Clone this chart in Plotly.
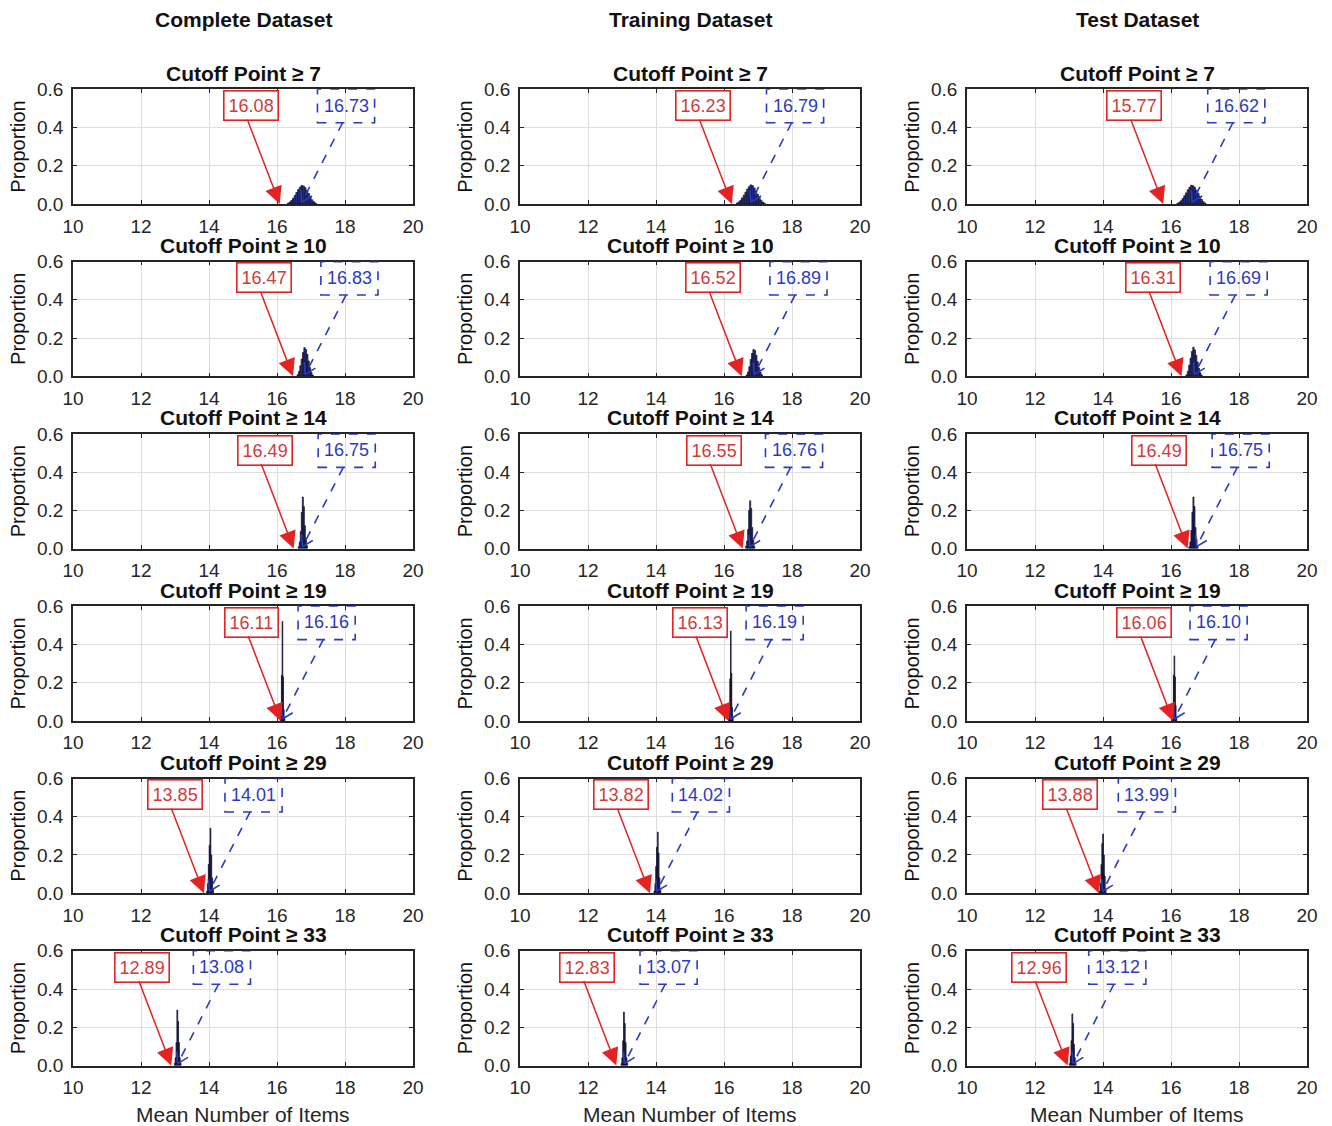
import math
import plotly.graph_objects as go

# ---------------- data ----------------
datasets = ["Complete Dataset", "Training Dataset", "Test Dataset"]
cutoffs = [7, 10, 14, 19, 29, 33]

# lower bound (red, solid box) and mean (blue, dashed box) per cutoff
complete_red = [16.08, 16.47, 16.49, 16.11, 13.85, 12.89]
complete_blue = [16.73, 16.83, 16.75, 16.16, 14.01, 13.08]
training_red = [16.23, 16.52, 16.55, 16.13, 13.82, 12.83]
training_blue = [16.79, 16.89, 16.76, 16.19, 14.02, 13.07]
test_red = [15.77, 16.31, 16.49, 16.06, 13.88, 12.96]
test_blue = [16.62, 16.69, 16.75, 16.10, 13.99, 13.12]

# histogram bins: width per cutoff row, left edge of first bin per panel
bin_width = [0.05, 0.04, 0.03, 0.02, 0.025, 0.025]
complete_bin_start = [16.305, 16.59, 16.625, 16.09, 13.93, 12.98]
training_bin_start = [16.365, 16.65, 16.635, 16.13, 13.94, 12.97]
test_bin_start = [16.175, 16.44, 16.525, 16.03, 13.89, 13.01]

complete_hist = [
    [0.004, 0.010, 0.018, 0.030, 0.044, 0.060, 0.075, 0.088, 0.097, 0.094, 0.085, 0.070, 0.055, 0.038, 0.022, 0.012, 0.005],
    [0.008, 0.025, 0.055, 0.090, 0.125, 0.150, 0.140, 0.115, 0.080, 0.045, 0.020, 0.007],
    [0.010, 0.035, 0.090, 0.190, 0.270, 0.220, 0.120, 0.050, 0.015],
    [0.015, 0.060, 0.240, 0.520, 0.230, 0.060, 0.012],
    [0.010, 0.050, 0.150, 0.250, 0.340, 0.200, 0.080, 0.020],
    [0.010, 0.040, 0.120, 0.290, 0.230, 0.120, 0.040, 0.010],
]
training_hist = [
    [0.005, 0.011, 0.020, 0.032, 0.046, 0.062, 0.078, 0.090, 0.100, 0.096, 0.084, 0.068, 0.050, 0.034, 0.020, 0.010, 0.004],
    [0.007, 0.022, 0.050, 0.088, 0.120, 0.140, 0.135, 0.110, 0.078, 0.046, 0.022, 0.008],
    [0.012, 0.040, 0.100, 0.200, 0.250, 0.210, 0.110, 0.045, 0.012],
    [0.015, 0.070, 0.220, 0.470, 0.250, 0.070, 0.015],
    [0.010, 0.050, 0.140, 0.240, 0.320, 0.210, 0.080, 0.020],
    [0.010, 0.040, 0.130, 0.280, 0.220, 0.120, 0.040, 0.010],
]
test_hist = [
    [0.004, 0.009, 0.017, 0.029, 0.043, 0.058, 0.074, 0.087, 0.098, 0.095, 0.086, 0.072, 0.056, 0.040, 0.024, 0.012, 0.005],
    [0.008, 0.026, 0.058, 0.095, 0.130, 0.152, 0.138, 0.110, 0.075, 0.042, 0.018, 0.006],
    [0.010, 0.035, 0.095, 0.190, 0.270, 0.220, 0.110, 0.050, 0.014],
    [0.020, 0.080, 0.240, 0.340, 0.230, 0.080, 0.020],
    [0.010, 0.050, 0.150, 0.260, 0.310, 0.200, 0.090, 0.020],
    [0.010, 0.050, 0.130, 0.270, 0.220, 0.110, 0.040, 0.010],
]

x_ticks = [10, 12, 14, 16, 18, 20]
y_ticks = [0.0, 0.2, 0.4, 0.6]
y_tick_labels = ["0.0", "0.2", "0.4", "0.6"]

red_vals = [complete_red, training_red, test_red]
blue_vals = [complete_blue, training_blue, test_blue]
bin_starts = [complete_bin_start, training_bin_start, test_bin_start]
hists = [complete_hist, training_hist, test_hist]

# ---------------- layout geometry ----------------
W, H = 1332, 1126
col_left = [73, 520, 967]  # in screen pixels
col_w = 340
row_top = [89.3, 261.6, 433.9, 606.2, 778.5, 950.8]
row_h = 114.7
px_x = col_w / 10.0
px_y = row_h / 0.6

FONT = "Arial, Liberation Sans, sans-serif"
DARK = "#262626"
RED_TXT = "#d23a3a"
RED = "#e52222"
BLUE = "#2a3ac4"
BAR_FILL = "#2838b8"

fig = go.Figure()
layout = dict(
    width=W, height=H, margin=dict(l=0, r=0, t=0, b=0, autoexpand=False),
    paper_bgcolor="white", plot_bgcolor="white", showlegend=False,
    font=dict(family=FONT, color=DARK), template="none",
)
annotations = []
shapes = []

def px2fx(px):
    return px / W

def px2fy(py):
    return 1 - py / H

for c in range(3):
    for r in range(6):
        k = r * 3 + c + 1
        xa = "x" if k == 1 else f"x{k}"
        ya = "y" if k == 1 else f"y{k}"
        xkey = "xaxis" if k == 1 else f"xaxis{k}"
        ykey = "yaxis" if k == 1 else f"yaxis{k}"
        x0p = col_left[c]
        y0p = row_top[r]
        layout[xkey] = dict(
            domain=[px2fx(x0p), px2fx(x0p + col_w)], anchor=ya, automargin=False,
            range=[10, 20], tickvals=x_ticks, showgrid=True, gridcolor="#dedede",
            gridwidth=1, showline=True, linecolor=DARK, linewidth=1.5, mirror="ticks",
            ticks="inside", ticklen=4, tickcolor=DARK, zeroline=False,
            tickfont=dict(size=19, color=DARK, family=FONT), ticklabelstandoff=4,
        )
        layout[ykey] = dict(
            domain=[px2fy(y0p + row_h), px2fy(y0p)], anchor=xa, automargin=False,
            range=[0, 0.6], tickvals=y_ticks, ticktext=y_tick_labels, showgrid=True,
            gridcolor="#dedede", gridwidth=1, showline=True, linecolor=DARK, linewidth=1.5,
            mirror="ticks", ticks="inside", ticklen=4, tickcolor=DARK, zeroline=False,
            tickfont=dict(size=19, color=DARK, family=FONT), ticklabelstandoff=4,
        )

        # histogram
        bw = bin_width[r]
        st = bin_starts[c][r]
        hv = hists[c][r]
        centers = [st + bw * (i + 0.5) for i in range(len(hv))]
        fig.add_trace(go.Bar(
            x=centers, y=hv, width=bw, xaxis=xa, yaxis=ya,
            marker=dict(color=BAR_FILL, line=dict(color="#0c0c14", width=0.7)),
            hoverinfo="skip",
        ))

        rv = red_vals[c][r]
        bv = blue_vals[c][r]

        # red solid box + arrow
        rc = rv - 0.85
        annotations.append(dict(
            x=rc, y=0.515, xref=xa, yref=ya, text=f"{rv:.2f}", showarrow=False,
            font=dict(size=18, color=RED_TXT, family=FONT),
            bordercolor=RED, borderwidth=1.6, borderpad=4, bgcolor="white",
            xanchor="center", yanchor="middle",
        ))
        annotations.append(dict(
            x=rv, y=0.0, xref=xa, yref=ya, ax=rc - 0.12, ay=0.45, axref=xa, ayref=ya,
            text="", showarrow=True, arrowhead=2, arrowsize=2.3, arrowwidth=1.5,
            arrowcolor=RED, standoff=0,
        ))

        # blue dashed box + dashed arrow
        bc = bv + 1.3
        shapes.append(dict(
            type="rect", xref=xa, yref=ya, x0=bc - 0.84, x1=bc + 0.84, y0=0.425, y1=0.6,
            line=dict(color=BLUE, width=1.6, dash="dash"), fillcolor="rgba(0,0,0,0)",
        ))
        annotations.append(dict(
            x=bc, y=0.515, xref=xa, yref=ya, text=f"{bv:.2f}", showarrow=False,
            font=dict(size=18, color=BLUE, family=FONT), xanchor="center", yanchor="middle",
        ))
        sx, sy = bc - 0.1, 0.425
        tx, ty = bv, 0.01
        shapes.append(dict(
            type="line", xref=xa, yref=ya, x0=sx, y0=sy, x1=tx, y1=ty,
            line=dict(color=BLUE, width=1.6, dash="dash"),
        ))
        dxp = (sx - tx) * px_x
        dyp = (sy - ty) * px_y
        L = math.hypot(dxp, dyp)
        ux, uy = dxp / L, dyp / L
        for ang in (0.55, -0.55):
            ca, sa = math.cos(ang), math.sin(ang)
            vx = (ux * ca - uy * sa) * 12
            vy = (ux * sa + uy * ca) * 12
            shapes.append(dict(
                type="line", xref=xa, yref=ya, xsizemode="pixel", ysizemode="pixel",
                xanchor=tx, yanchor=ty, x0=0, y0=0, x1=vx, y1=vy,
                line=dict(color=BLUE, width=1.6),
            ))

        # subplot title
        annotations.append(dict(
            x=px2fx(x0p + col_w / 2), y=px2fy(y0p - 16), xref="paper", yref="paper",
            text=f"<b>Cutoff Point \u2265 {cutoffs[r]}</b>", showarrow=False,
            font=dict(size=21, color="#111111", family=FONT), xanchor="center", yanchor="middle",
        ))
        # y axis title
        annotations.append(dict(
            x=px2fx(x0p - 55), y=px2fy(y0p + row_h / 2), xref="paper", yref="paper",
            text="Proportion", showarrow=False, textangle=-90,
            font=dict(size=20, color="#111111", family=FONT), xanchor="center", yanchor="middle",
        ))

    # column header
    annotations.append(dict(
        x=px2fx(col_left[c] + col_w / 2), y=px2fy(20), xref="paper", yref="paper",
        text=f"<b>{datasets[c]}</b>", showarrow=False,
        font=dict(size=21, color="#111111", family=FONT), xanchor="center", yanchor="middle",
    ))
    # x axis title
    annotations.append(dict(
        x=px2fx(col_left[c] + col_w / 2), y=px2fy(1114), xref="paper", yref="paper",
        text="Mean Number of Items", showarrow=False,
        font=dict(size=21, color=DARK, family=FONT), xanchor="center", yanchor="middle",
    ))

layout["annotations"] = annotations
layout["shapes"] = shapes
fig.update_layout(**layout)
fig.write_html(
    "out.html",
    config={"displayModeBar": False},
    post_script="document.body.style.margin='0px';document.body.style.overflow='hidden';",
)
